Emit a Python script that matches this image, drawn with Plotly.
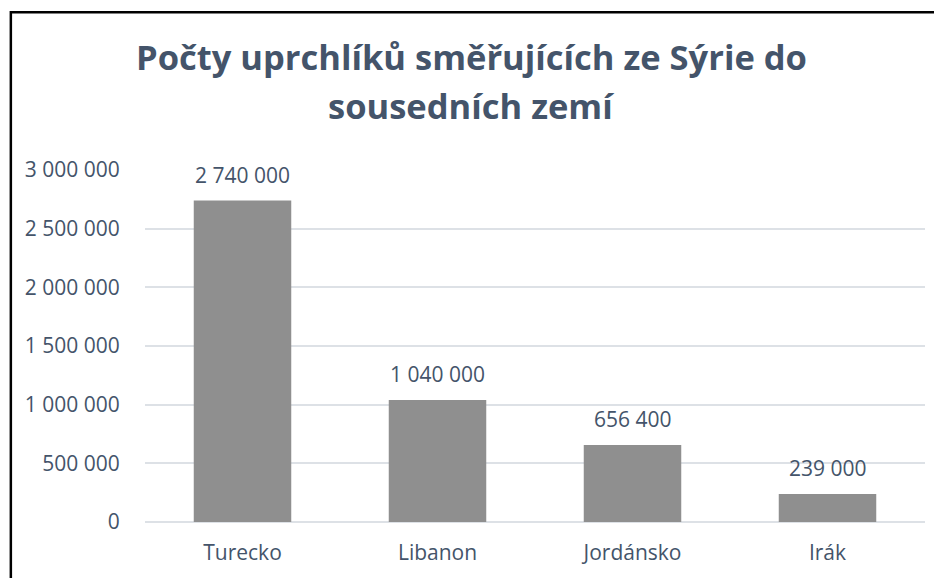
import plotly.graph_objects as go

categories = ["Turecko", "Libanon", "Jordánsko", "Irák"]
values = [2740000, 1040000, 656400, 239000]
tick_vals = [0, 500000, 1000000, 1500000, 2000000, 2500000, 3000000]
title_lines = ["Počty uprchlíků směřujících ze Sýrie do", "sousedních zemí"]


def fmt(v):
    return f"{v:,}".replace(",", " ")


TEXT = "#44546A"
FONT = "Open Sans"

fig = go.Figure()
fig.add_trace(go.Bar(
    x=categories, y=values,
    marker=dict(color="#8f8f8f", line=dict(width=0)),
    hoverinfo="x+y",
))

annotations = []
for c, v in zip(categories, values):
    annotations.append(dict(
        x=c, y=v, xref="x", yref="y", text=fmt(v), showarrow=False,
        yanchor="bottom", yshift=10, font=dict(family=FONT, size=21, color=TEXT),
    ))
for i, line in enumerate(title_lines):
    annotations.append(dict(
        x=0.418, y=[1.322, 1.182][i], xref="paper", yref="paper", text=f"<b>{line}</b>",
        showarrow=False, xanchor="center", yanchor="middle",
        font=dict(family=FONT, size=34.5, color=TEXT),
    ))

fig.update_layout(
    width=934, height=570,
    margin=dict(l=137, r=17, t=162, b=52),
    paper_bgcolor="white", plot_bgcolor="white",
    showlegend=False, bargap=0.5,
    annotations=annotations,
    shapes=[dict(type="rect", xref="paper", yref="paper",
                 x0=-0.172, x1=1.5, y0=-0.5, y1=1.448,
                 line=dict(color="black", width=2.5), fillcolor="rgba(0,0,0,0)",
                 layer="above")],
    xaxis=dict(
        showgrid=False, showline=False, zeroline=False,
        ticks="outside", ticklen=12, tickcolor="rgba(0,0,0,0)",
        tickfont=dict(family=FONT, size=21, color=TEXT),
    ),
    yaxis=dict(
        range=[0, 3000000], tickvals=tick_vals, ticktext=[fmt(t) for t in tick_vals],
        showgrid=True, gridcolor="#dde1e6", gridwidth=2,
        zeroline=True, zerolinecolor="#dde1e6", zerolinewidth=2,
        showline=False, ticks="outside", ticklen=20, tickcolor="rgba(0,0,0,0)",
        tickfont=dict(family=FONT, size=21, color=TEXT),
    ),
)

fig.write_html("out.html")
